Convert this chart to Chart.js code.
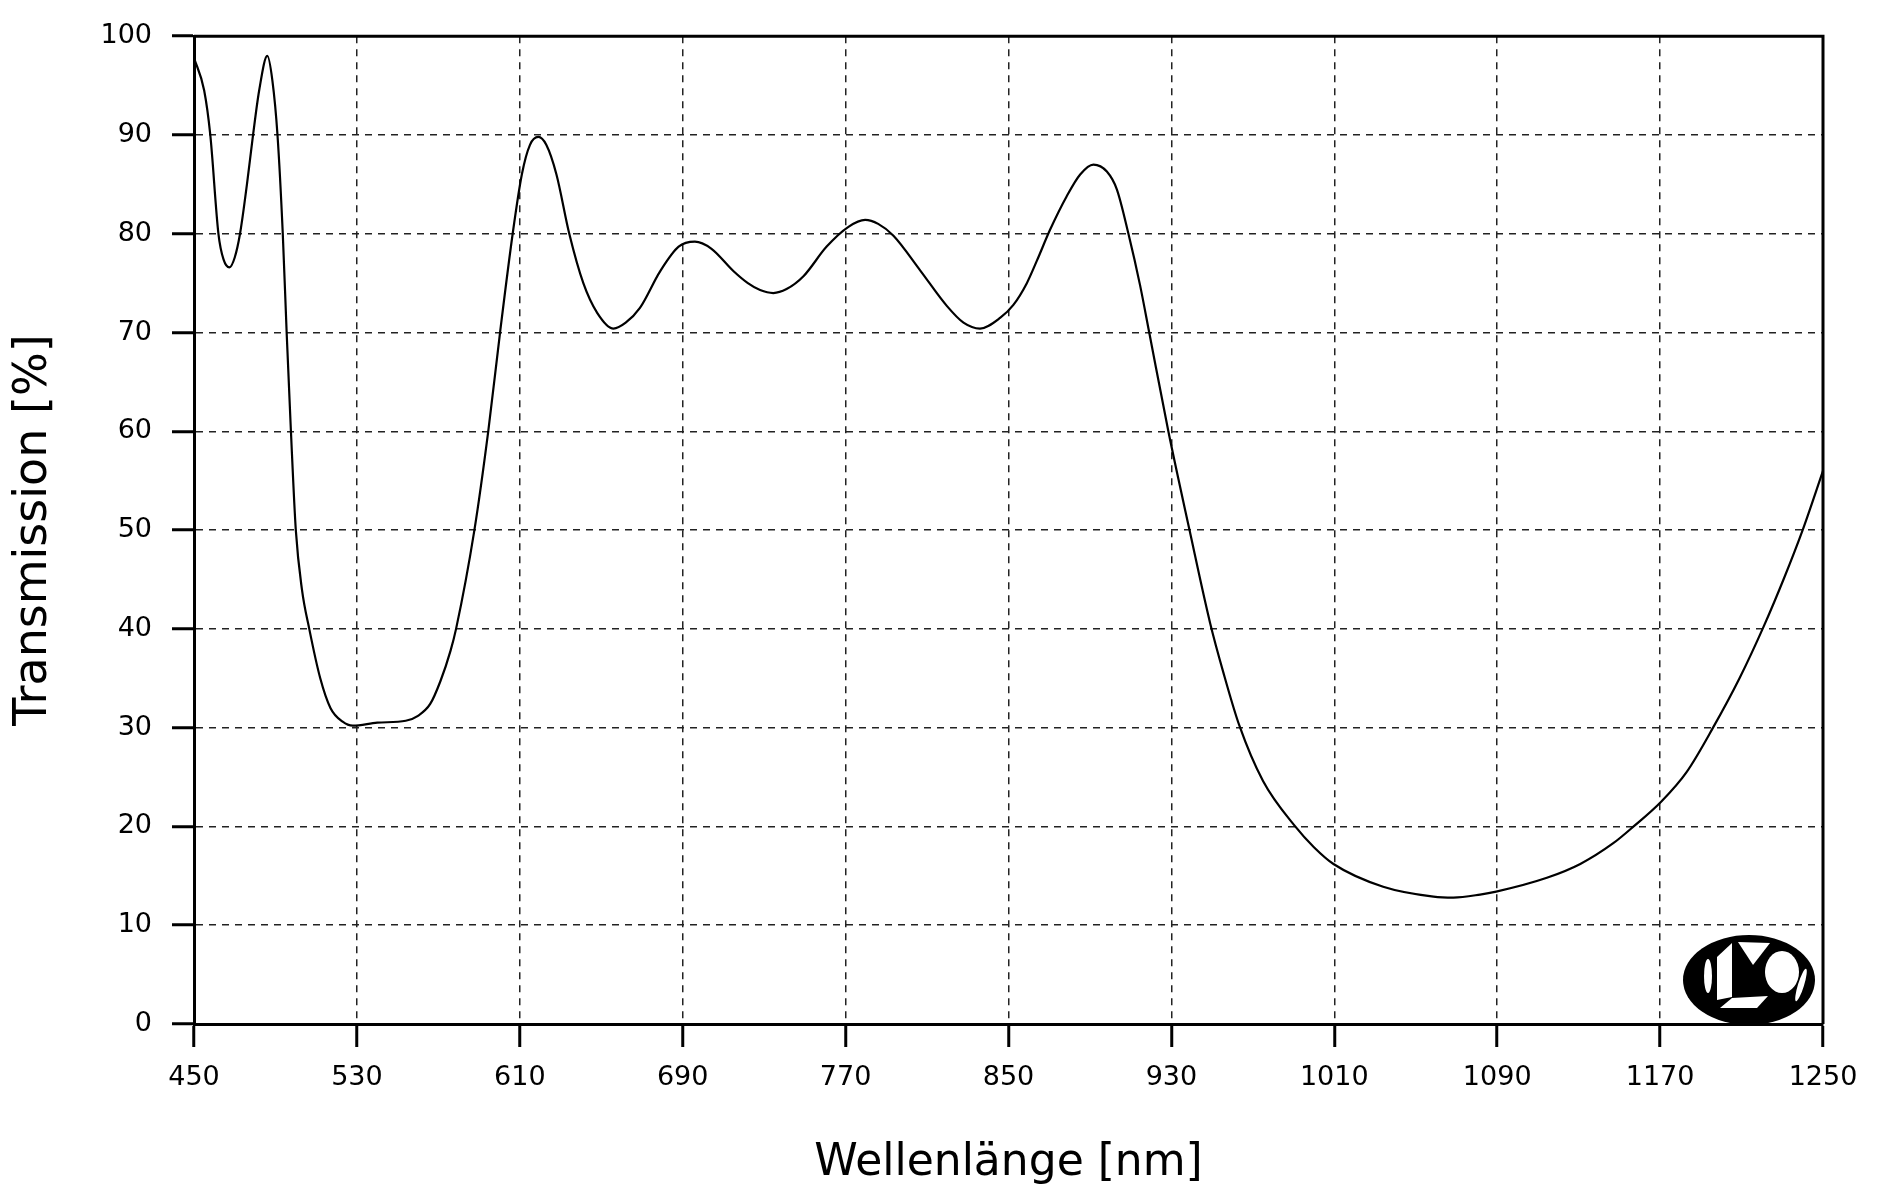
<!DOCTYPE html>
<html lang="de">
<head>
<meta charset="utf-8">
<title>Transmission</title>
<script src="https://cdn.jsdelivr.net/npm/chart.js@4.4.1/dist/chart.umd.min.js"></script>
<style>
    html, body { margin: 0; padding: 0; background: #fff; }
    #wrap { width: 1886px; height: 1191px; }
</style>
</head>
<body>
<div id="wrap"><canvas id="chart" width="1886" height="1191"></canvas></div>
<script>
const wavelengths = [
    450, 455, 458, 462, 464.5, 467.4, 470, 472.6, 476, 479, 482, 486, 488.5, 491, 493.6, 495.5,
    497.6, 500, 503, 506.6, 512, 517, 523, 528, 540, 554, 560, 566, 571, 576, 578.7, 587.7,
    594.5, 600.3, 606.5, 611, 615, 619.1, 623, 628, 634.3, 641.2, 648, 656, 662, 669, 678.9,
    688, 696, 704, 715, 722, 728, 734.5, 741, 749.3, 760.7, 771.4, 779.6, 786, 793.5, 806.6,
    819.7, 827.9, 836, 846, 852.4, 859, 864, 870.4, 878.6, 885.2, 891.7, 898.3, 903.2, 908.9,
    914.6, 919.3, 928.5, 938.9, 949, 955.5, 963.4, 975, 990.8, 1000, 1009.6, 1034, 1058.7,
    1068.5, 1081.6, 1089.5, 1114.4, 1130.8, 1147, 1157, 1170.5, 1183, 1196, 1209, 1221, 1231,
    1240, 1250
];
const transmission = [
    97.8, 94.5, 90.0, 80.0, 77.4, 76.6, 77.6, 80.0, 85.0, 90.0, 94.5, 98.0, 95.5, 90.0, 80.0, 70.0,
    60.0, 50.0, 44.0, 40.0, 35.0, 32.0, 30.6, 30.2, 30.5, 30.7, 31.2, 32.4, 34.7, 37.8, 40.0, 50.0,
    60.0, 70.0, 80.0, 86.0, 89.0, 89.8, 89.0, 86.0, 80.0, 75.0, 72.0, 70.4, 71.0, 72.5, 76.2,
    78.7, 79.2, 78.5, 76.2, 75.0, 74.3, 74.0, 74.4, 75.7, 78.7, 80.7, 81.4, 81.0, 79.8, 76.3,
    72.7, 71.0, 70.4, 71.5, 72.8, 75.0, 77.3, 80.4, 83.8, 86.0, 87.0, 86.3, 84.5, 80.0,
    74.8, 69.8, 60.0, 50.0, 40.6, 35.6, 30.2, 24.6, 20.0, 17.9, 16.2, 13.9, 12.9,
    12.8, 13.1, 13.4, 14.8, 16.2, 18.3, 20.0, 22.5, 25.5, 30.0, 35.0, 40.3, 45.2,
    50.0, 56.0
];
const xTicks = [450, 530, 610, 690, 770, 850, 930, 1010, 1090, 1170, 1250];
const yTicks = [0, 10, 20, 30, 40, 50, 60, 70, 80, 90, 100];

const FONT = "'DejaVu Sans', 'Liberation Sans', sans-serif";

// Rahmen oben/rechts, den Chart.js selbst nicht zeichnet
const framePlugin = {
    id: "frame",
    afterDraw(chart) {
        const { ctx, chartArea: a } = chart;
        ctx.save();
        ctx.strokeStyle = "#000";
        ctx.lineWidth = 3;
        ctx.beginPath();
        ctx.moveTo(a.left, a.top);
        ctx.lineTo(a.right, a.top);
        ctx.lineTo(a.right, a.bottom);
        ctx.stroke();
        ctx.restore();
    }
};

// Firmenlogo unten rechts (schwarze Ellipse mit weißen Formen)
const logoPlugin = {
    id: "logo",
    afterDraw(chart) {
        const { ctx, chartArea: a } = chart;
        const cx = a.right - 74, cy = a.bottom - 44;
        ctx.save();
        ctx.translate(cx, cy);
        ctx.fillStyle = "#000";
        ctx.beginPath();
        ctx.ellipse(0, 0, 66, 45, 0, 0, Math.PI * 2);
        ctx.fill();

        ctx.fillStyle = "#fff";
        const poly = (pts) => {
            ctx.beginPath();
            ctx.moveTo(pts[0][0], pts[0][1]);
            pts.slice(1).forEach(p => ctx.lineTo(p[0], p[1]));
            ctx.closePath();
            ctx.fill();
        };
        ctx.beginPath(); ctx.ellipse(-41, -4, 4, 17, 0, 0, Math.PI * 2); ctx.fill();
        poly([[-32, -23], [-17, -37], [-17, 17], [-32, 20]]);
        poly([[-11, -38], [21, -37], [4, -15]]);
        ctx.beginPath(); ctx.ellipse(33, -8, 17, 21, 0, 0, Math.PI * 2); ctx.fill();
        poly([[-17, 18], [19, 16], [8, 28], [-29, 28]]);
        ctx.beginPath(); ctx.ellipse(52, 5, 3, 17, 0.3, 0, Math.PI * 2); ctx.fill();
        ctx.restore();
    }
};

const points = wavelengths.map((w, i) => ({ x: w, y: transmission[i] }));
const tickFont = { family: FONT, size: 27 };

new Chart(document.getElementById("chart"), {
    type: "line",
    data: {
        datasets: [{
            data: points,
            borderColor: "#000",
            borderWidth: 2.2,
            pointRadius: 0,
            fill: false,
            cubicInterpolationMode: "monotone",
        }],
    },
    options: {
        responsive: false,
        animation: false,
        events: [],
        layout: { padding: { top: 24, right: 63, left: 0, bottom: 0 } },
        plugins: { legend: { display: false }, tooltip: { enabled: false } },
        scales: {
            x: {
                type: "linear",
                min: 450,
                max: 1250,
                afterBuildTicks: s => { s.ticks = xTicks.map(v => ({ value: v })); },
                afterFit: s => { s.height = 167; },
                ticks: { color: "#000", font: tickFont, padding: 15, maxRotation: 0, autoSkip: false, callback: v => String(v) },
                grid: {
                    color: "#222", lineWidth: 1.5,
                    tickLength: 23, tickWidth: 3, tickColor: "#000", tickBorderDash: [],
                },
                border: { display: true, color: "#000", width: 3, dash: [7, 6] },
                title: {
                    display: true, text: "Wellenlänge [nm]", color: "#000",
                    font: { family: FONT, size: 44, lineHeight: 1 }, padding: { top: 0, bottom: 5 },
                },
            },
            y: {
                type: "linear",
                min: 0,
                max: 100,
                afterBuildTicks: s => { s.ticks = yTicks.map(v => ({ value: v })); },
                afterFit: s => { s.width = 194; },
                ticks: { color: "#000", font: tickFont, padding: 20, callback: v => String(v) },
                grid: {
                    color: "#222", lineWidth: 1.5,
                    tickLength: 22, tickWidth: 3, tickColor: "#000", tickBorderDash: [],
                },
                border: { display: true, color: "#000", width: 3, dash: [7, 6] },
                title: {
                    display: true, text: "Transmission [%]", color: "#000",
                    font: { family: FONT, size: 46, lineHeight: 1 }, padding: { top: 11, bottom: 0 },
                },
            },
        },
    },
    plugins: [framePlugin, logoPlugin],
});
</script>
</body>
</html>
